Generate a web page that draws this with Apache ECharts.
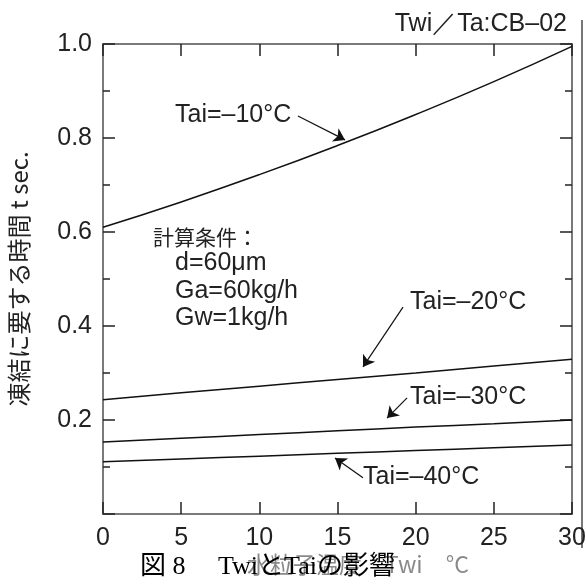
<!DOCTYPE html>
<html><head><meta charset="utf-8">
<script src="https://cdn.jsdelivr.net/npm/echarts@6/dist/echarts.min.js"></script>
<style>html,body{margin:0;padding:0;background:#fff}#c{width:586px;height:586px}</style>
</head><body><div id="c"></div>
<script>
const twi = [0, 5, 10, 15, 20, 25, 30];
const tai10 = [0.61, 0.664, 0.722, 0.784, 0.850, 0.920, 0.995];
const tai20 = [0.243, 0.258, 0.272, 0.286, 0.300, 0.315, 0.329];
const tai30 = [0.153, 0.161, 0.169, 0.177, 0.185, 0.192, 0.200];
const tai40 = [0.111, 0.117, 0.123, 0.129, 0.135, 0.141, 0.147];
const seriesNames = ['Tai=–10°C', 'Tai=–20°C', 'Tai=–30°C', 'Tai=–40°C'];
const arrows = [
  [[12.47, 0.847], [15.48, 0.796]],
  [[19.19, 0.440], [16.63, 0.313]],
  [[19.45, 0.247], [18.17, 0.204]],
  [[16.63, 0.077], [14.84, 0.119]]
];
const xTicks = [0, 5, 10, 15, 20, 25, 30];
const yTickLabels = ['', '0.2', '0.4', '0.6', '0.8', '1.0'];

const chart = echarts.init(document.getElementById('c'), null, {renderer: 'canvas'});
const axisColor = '#7a7a7a';
const F = 'Arial, "Liberation Sans", Helvetica, sans-serif';
function mk(name, vals, i) {
  return {
    name: name, type: 'line', smooth: true, showSymbol: false, silent: true,
    data: twi.map((x, k) => [x, vals[k]]),
    lineStyle: {color: '#111', width: 1.5},
    markLine: {
      silent: true, symbol: ['none', 'arrow'], symbolSize: 11,
      label: {show: false},
      lineStyle: {color: '#111', width: 1.2, type: 'solid'},
      data: [[{coord: arrows[i][0]}, {coord: arrows[i][1]}]]
    }
  };
}
const common = {
  min: 0, axisLine: {show: true, onZero: false, lineStyle: {color: axisColor, width: 2}},
  splitLine: {show: false}
};
const tick = {inside: true, length: 12, lineStyle: {color: '#222', width: 1.5}};
const minor = {show: true, splitNumber: 2, length: 7, lineStyle: {color: '#222', width: 1.5}};
chart.setOption({
  animation: false,
  grid: {left: 103, right: 14, top: 44, bottom: 72, containLabel: false, outerBoundsMode: 'none'},
  xAxis: [
    Object.assign({}, common, {type: 'value', max: 30, interval: 5, position: 'bottom',
      axisTick: tick,
      axisLabel: {fontSize: 25, color: '#222', fontFamily: F, margin: 12,
        formatter: v => xTicks.indexOf(v) >= 0 ? String(v) : ''}}),
    Object.assign({}, common, {type: 'value', max: 30, interval: 5, position: 'top',
      axisTick: tick, axisLabel: {show: false}})
  ],
  yAxis: [
    Object.assign({}, common, {type: 'value', max: 1, interval: 0.2, position: 'left',
      axisTick: tick, minorTick: minor,
      axisLabel: {fontSize: 25, color: '#222', fontFamily: F, margin: 11,
        formatter: v => yTickLabels[Math.round(v / 0.2)] || ''},
      name: '凍結に要する時間 t sec.', nameLocation: 'middle', nameRotate: 90, nameGap: 72,
      nameTextStyle: {fontSize: 24, color: '#222', fontFamily: '"Noto Sans CJK JP", Arial, sans-serif'}}),
    Object.assign({}, common, {type: 'value', max: 1, interval: 0.2, position: 'right',
      axisTick: tick, minorTick: minor, axisLabel: {show: false}})
  ],
  series: [mk(seriesNames[0], tai10, 0), mk(seriesNames[1], tai20, 1), mk(seriesNames[2], tai30, 2), mk(seriesNames[3], tai40, 3)],
  graphic: [
    {type: 'line', shape: {x1: 582, y1: 20, x2: 582, y2: 548}, style: {stroke: '#777', lineWidth: 2}, silent: true},
    {type: 'text', right: 19, top: 12, style: {text: 'Twi／Ta:CB–02', font: '25px ' + F, fill: '#222'}},
    {type: 'text', left: 175, top: 103, style: {text: seriesNames[0], font: '25px ' + F, fill: '#222'}},
    {type: 'text', left: 410, top: 290, style: {text: seriesNames[1], font: '25px ' + F, fill: '#222'}},
    {type: 'text', left: 410, top: 385, style: {text: seriesNames[2], font: '25px ' + F, fill: '#222'}},
    {type: 'text', left: 363, top: 465, style: {text: seriesNames[3], font: '25px ' + F, fill: '#222'}},
    {type: 'text', left: 153, top: 227, style: {text: '計算条件：', font: '21px "Noto Sans CJK JP", sans-serif', fill: '#222'}},
    {type: 'text', left: 175, top: 251, style: {text: 'd=60μm', font: '25px ' + F, fill: '#222'}},
    {type: 'text', left: 175, top: 279, style: {text: 'Ga=60kg/h', font: '25px ' + F, fill: '#222'}},
    {type: 'text', left: 175, top: 306, style: {text: 'Gw=1kg/h', font: '25px ' + F, fill: '#222'}},
    {type: 'text', left: 247, top: 553, style: {text: '水粒子温度　Twi　°C', font: '23px "Noto Sans CJK JP", sans-serif', fill: '#8a8a8a'}},
    {type: 'text', left: 140, top: 554, style: {text: '図 8　 TwiとTaiの影響', font: '26px "Liberation Serif", "Noto Sans CJK JP", serif', fill: '#000'}}
  ]
});
</script></body></html>
